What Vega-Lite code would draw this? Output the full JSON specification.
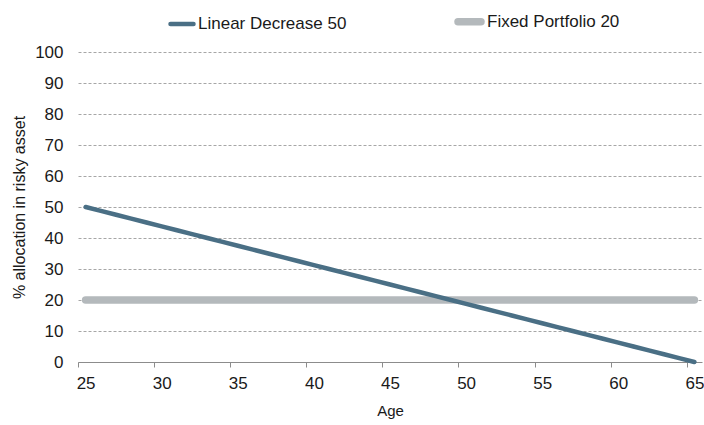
{
  "$schema": "https://vega.github.io/schema/vega-lite/v6.json",
  "width": 624,
  "height": 310,
  "autosize": {"type": "none"},
  "padding": {"left": 78, "top": 52, "right": 2, "bottom": 63},
  "background": "white",
  "config": {
    "font": "Liberation Sans",
    "view": {"stroke": null},
    "axis": {"labelFont": "Liberation Sans", "titleFont": "Liberation Sans", "labelColor": "#1a1a1a", "titleColor": "#1a1a1a", "titleFontWeight": "normal"},
    "legend": {"labelFont": "Liberation Sans"}
  },
  "data": {
    "values": [
      {"age": 25, "series": "Fixed Portfolio 20", "value": 20},
      {"age": 26, "series": "Fixed Portfolio 20", "value": 20},
      {"age": 27, "series": "Fixed Portfolio 20", "value": 20},
      {"age": 28, "series": "Fixed Portfolio 20", "value": 20},
      {"age": 29, "series": "Fixed Portfolio 20", "value": 20},
      {"age": 30, "series": "Fixed Portfolio 20", "value": 20},
      {"age": 31, "series": "Fixed Portfolio 20", "value": 20},
      {"age": 32, "series": "Fixed Portfolio 20", "value": 20},
      {"age": 33, "series": "Fixed Portfolio 20", "value": 20},
      {"age": 34, "series": "Fixed Portfolio 20", "value": 20},
      {"age": 35, "series": "Fixed Portfolio 20", "value": 20},
      {"age": 36, "series": "Fixed Portfolio 20", "value": 20},
      {"age": 37, "series": "Fixed Portfolio 20", "value": 20},
      {"age": 38, "series": "Fixed Portfolio 20", "value": 20},
      {"age": 39, "series": "Fixed Portfolio 20", "value": 20},
      {"age": 40, "series": "Fixed Portfolio 20", "value": 20},
      {"age": 41, "series": "Fixed Portfolio 20", "value": 20},
      {"age": 42, "series": "Fixed Portfolio 20", "value": 20},
      {"age": 43, "series": "Fixed Portfolio 20", "value": 20},
      {"age": 44, "series": "Fixed Portfolio 20", "value": 20},
      {"age": 45, "series": "Fixed Portfolio 20", "value": 20},
      {"age": 46, "series": "Fixed Portfolio 20", "value": 20},
      {"age": 47, "series": "Fixed Portfolio 20", "value": 20},
      {"age": 48, "series": "Fixed Portfolio 20", "value": 20},
      {"age": 49, "series": "Fixed Portfolio 20", "value": 20},
      {"age": 50, "series": "Fixed Portfolio 20", "value": 20},
      {"age": 51, "series": "Fixed Portfolio 20", "value": 20},
      {"age": 52, "series": "Fixed Portfolio 20", "value": 20},
      {"age": 53, "series": "Fixed Portfolio 20", "value": 20},
      {"age": 54, "series": "Fixed Portfolio 20", "value": 20},
      {"age": 55, "series": "Fixed Portfolio 20", "value": 20},
      {"age": 56, "series": "Fixed Portfolio 20", "value": 20},
      {"age": 57, "series": "Fixed Portfolio 20", "value": 20},
      {"age": 58, "series": "Fixed Portfolio 20", "value": 20},
      {"age": 59, "series": "Fixed Portfolio 20", "value": 20},
      {"age": 60, "series": "Fixed Portfolio 20", "value": 20},
      {"age": 61, "series": "Fixed Portfolio 20", "value": 20},
      {"age": 62, "series": "Fixed Portfolio 20", "value": 20},
      {"age": 63, "series": "Fixed Portfolio 20", "value": 20},
      {"age": 64, "series": "Fixed Portfolio 20", "value": 20},
      {"age": 65, "series": "Fixed Portfolio 20", "value": 20},
      {"age": 25, "series": "Linear Decrease 50", "value": 50},
      {"age": 26, "series": "Linear Decrease 50", "value": 48.75},
      {"age": 27, "series": "Linear Decrease 50", "value": 47.5},
      {"age": 28, "series": "Linear Decrease 50", "value": 46.25},
      {"age": 29, "series": "Linear Decrease 50", "value": 45},
      {"age": 30, "series": "Linear Decrease 50", "value": 43.75},
      {"age": 31, "series": "Linear Decrease 50", "value": 42.5},
      {"age": 32, "series": "Linear Decrease 50", "value": 41.25},
      {"age": 33, "series": "Linear Decrease 50", "value": 40},
      {"age": 34, "series": "Linear Decrease 50", "value": 38.75},
      {"age": 35, "series": "Linear Decrease 50", "value": 37.5},
      {"age": 36, "series": "Linear Decrease 50", "value": 36.25},
      {"age": 37, "series": "Linear Decrease 50", "value": 35},
      {"age": 38, "series": "Linear Decrease 50", "value": 33.75},
      {"age": 39, "series": "Linear Decrease 50", "value": 32.5},
      {"age": 40, "series": "Linear Decrease 50", "value": 31.25},
      {"age": 41, "series": "Linear Decrease 50", "value": 30},
      {"age": 42, "series": "Linear Decrease 50", "value": 28.75},
      {"age": 43, "series": "Linear Decrease 50", "value": 27.5},
      {"age": 44, "series": "Linear Decrease 50", "value": 26.25},
      {"age": 45, "series": "Linear Decrease 50", "value": 25},
      {"age": 46, "series": "Linear Decrease 50", "value": 23.75},
      {"age": 47, "series": "Linear Decrease 50", "value": 22.5},
      {"age": 48, "series": "Linear Decrease 50", "value": 21.25},
      {"age": 49, "series": "Linear Decrease 50", "value": 20},
      {"age": 50, "series": "Linear Decrease 50", "value": 18.75},
      {"age": 51, "series": "Linear Decrease 50", "value": 17.5},
      {"age": 52, "series": "Linear Decrease 50", "value": 16.25},
      {"age": 53, "series": "Linear Decrease 50", "value": 15},
      {"age": 54, "series": "Linear Decrease 50", "value": 13.75},
      {"age": 55, "series": "Linear Decrease 50", "value": 12.5},
      {"age": 56, "series": "Linear Decrease 50", "value": 11.25},
      {"age": 57, "series": "Linear Decrease 50", "value": 10},
      {"age": 58, "series": "Linear Decrease 50", "value": 8.75},
      {"age": 59, "series": "Linear Decrease 50", "value": 7.5},
      {"age": 60, "series": "Linear Decrease 50", "value": 6.25},
      {"age": 61, "series": "Linear Decrease 50", "value": 5},
      {"age": 62, "series": "Linear Decrease 50", "value": 3.75},
      {"age": 63, "series": "Linear Decrease 50", "value": 2.5},
      {"age": 64, "series": "Linear Decrease 50", "value": 1.25},
      {"age": 65, "series": "Linear Decrease 50", "value": 0}
    ]
  },
  "encoding": {
    "x": {
      "field": "age",
      "type": "quantitative",
      "scale": {"domain": [24.5, 65.5], "nice": false, "zero": false},
      "axis": {
        "title": "Age",
        "titleFontSize": 15,
        "titlePadding": 12,
        "values": [24.5, 29.5, 34.5, 39.5, 44.5, 49.5, 54.5, 59.5, 64.5],
        "labelExpr": "format(datum.value + 0.5, 'd')",
        "labelOffset": 7.6,
        "labelFontSize": 17,
        "labelPadding": 8,
        "labelFlush": false,
        "grid": false,
        "domainColor": "#8c8c8c",
        "tickColor": "#8c8c8c",
        "tickSize": 5
      }
    },
    "y": {
      "field": "value",
      "type": "quantitative",
      "scale": {"domain": [0, 100], "nice": false},
      "axis": {
        "title": "% allocation in risky asset",
        "titleFontSize": 16,
        "titlePadding": 7,
        "values": [0, 10, 20, 30, 40, 50, 60, 70, 80, 90, 100],
        "labelFontSize": 17,
        "labelPadding": 15,
        "ticks": false,
        "domain": false,
        "grid": true,
        "gridColor": "#a6a6a6",
        "gridDash": [3, 2],
        "gridWidth": 1
      }
    },
    "color": {
      "field": "series",
      "type": "nominal",
      "scale": {"domain": ["Linear Decrease 50", "Fixed Portfolio 20"], "range": ["#4a6f85", "#b4b9bc"]},
      "legend": {
        "title": null,
        "orient": "none",
        "direction": "horizontal",
        "legendX": 90,
        "legendY": -46,
        "symbolType": "stroke",
        "symbolSize": 529,
        "labelFontSize": 17,
        "labelColor": "#1a1a1a",
        "labelOffset": 2,
        "columnPadding": 96,
        "encode": {"symbols": {"update": {"strokeCap": {"value": "round"}}}}
      }
    },
    "strokeWidth": {
      "field": "series",
      "type": "nominal",
      "scale": {"domain": ["Linear Decrease 50", "Fixed Portfolio 20"], "range": [4.5, 7.5]},
      "legend": null
    }
  },
  "layer": [
    {
      "transform": [{"filter": "datum.series === 'Fixed Portfolio 20'"}],
      "mark": {"type": "line", "strokeCap": "round"}
    },
    {
      "transform": [{"filter": "datum.series === 'Linear Decrease 50'"}],
      "mark": {"type": "line", "strokeCap": "round"}
    }
  ]
}
